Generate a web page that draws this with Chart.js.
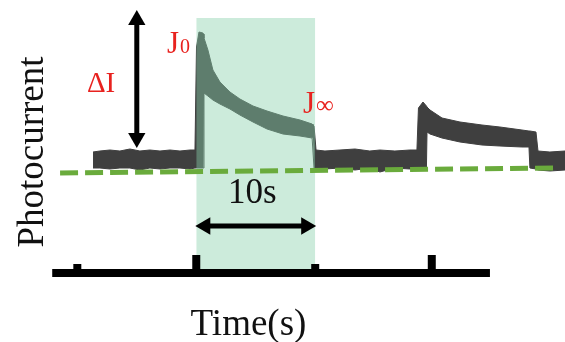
<!DOCTYPE html>
<html>
<head>
<meta charset="utf-8">
<script src="https://cdn.jsdelivr.net/npm/chart.js@4/dist/chart.umd.min.js"></script>
<style>
  html, body { margin: 0; padding: 0; background: #fff; }
  canvas { display: block; }
</style>
</head>
<body>
<canvas id="grafico" width="565" height="342"></canvas>
<script>
// Photocurrent trace (time in s, current in arbitrary units)
const traceTime = [-8.68, -8.10, -7.26, -6.42, -5.58, -4.74, -3.90, -3.05, -2.21, -1.37, -0.53, -0.11,
  0.02, 0.23, 0.56, 0.61, 0.65, 0.98, 1.40, 1.99, 2.83, 3.67, 4.77, 5.95, 7.29, 8.72, 9.74, 9.81, 9.90,
  10.07, 10.82, 12.08, 13.34, 14.59, 15.44, 16.70, 17.96, 18.55, 18.68, 19.06, 19.35, 19.40, 19.65,
  20.66, 22.17, 24.02, 25.53, 27.38, 27.97, 28.05, 28.56, 28.73, 29.73, 31.0];
const traceUpper = [12.1, 12.2, 12.3, 12.2, 12.4, 12.2, 12.3, 12.2, 12.3, 12.2, 12.3, 12.3,
  22.6, 24.1, 24.0, 23.9, 23.5, 22.3, 20.3, 19.1, 18.1, 17.4, 16.7, 16.2, 15.7, 15.3, 14.9, 14.8, 14.7,
  12.3, 12.2, 12.3, 12.4, 12.2, 12.3, 12.2, 12.3, 12.3, 16.5, 17.1, 16.7, 16.6, 16.3,
  15.5, 15.1, 14.8, 14.6, 14.3, 14.2, 14.2, 14.1, 12.2, 12.1, 12.2];
const traceLower = [10.5, 10.5, 10.4, 10.5, 10.5, 10.3, 10.5, 10.4, 10.5, 10.5, 10.4, 10.5,
  10.5, 10.5, 10.5, 10.5, 18.0, 17.7, 17.3, 16.9, 16.4, 15.8, 15.1, 14.4, 13.9, 13.7, 13.5, 13.5, 10.5,
  10.5, 10.4, 10.5, 10.3, 10.5, 10.1, 10.5, 10.4, 10.5, 10.5, 10.5, 10.5, 14.1, 13.9,
  13.5, 13.1, 12.8, 12.7, 12.6, 12.6, 10.5, 10.4, 10.3, 10.2, 10.3];

// dark-current baseline (dashed)
const baseTime = [-11.45, 30.16];
const baseValue = [10.0, 10.5];

// illumination window (light on)
const lightTime = [0, 10];
const lightTop = [25.5, 25.5];

// time axis line and on/off markers
const axisTime = [-12.11, 24.69];
const markTime = [-10, 0, 10, 19.8];
const markHeight = [0.9, 1.8, 0.9, 1.8];

// ΔI arrow and 10 s arrow
const deltaTime = [-5.0, -5.0];
const deltaValue = [25.3, 13.5];
const spanTime = [0.76, 9.24];
const spanValue = [4.7, 4.7];

const vermelho = "#e8221f";
const serif = "'Liberation Serif', 'Times New Roman', serif";

const rotulos = [
  { text: "ΔI", x: -9.19, y: 18.1, size: 29, color: vermelho, align: "left" },
  { text: "J", sub: "0", x: -2.46, y: 22.0, size: 31, subSize: 20, color: vermelho, align: "left" },
  { text: "J", sub: "∞", x: 8.97, y: 16.0, size: 31, subSize: 25, color: vermelho, align: "left" },
  { text: "10s", x: 4.72, y: 7.0, size: 35, color: "#111", align: "center" },
  { text: "Time(s)", x: 4.39, y: -6.2, size: 37, color: "#111", align: "center" },
  { text: "Photocurrent", x: -12.89, y: 12.1, size: 37, color: "#111", align: "center", rotate: true },
];

const pontos = (xs, ys) => xs.map((v, i) => ({ x: v, y: ys[i] }));

// Texto das anotações
const textoPlugin = {
  id: "textoPlugin",
  afterDatasetsDraw(chart) {
    const { ctx, scales } = chart;
    rotulos.forEach((r) => {
      const px = scales.x.getPixelForValue(r.x);
      const py = scales.y.getPixelForValue(r.y);
      ctx.save();
      ctx.fillStyle = r.color;
      ctx.textBaseline = "alphabetic";
      ctx.font = r.size + "px " + serif;
      ctx.translate(px, py);
      if (r.rotate) ctx.rotate(-Math.PI / 2);
      ctx.textAlign = r.align;
      ctx.fillText(r.text, 0, 0);
      if (r.sub) {
        const w = ctx.measureText(r.text).width;
        ctx.font = r.subSize + "px " + serif;
        ctx.textAlign = "left";
        ctx.fillText(r.sub, w + 1, 0);
      }
      ctx.restore();
    });
  },
};

const datasets = [
  {
    label: "upper",
    data: pontos(traceTime, traceUpper),
    borderColor: "#3f3f3f",
    backgroundColor: "#3f3f3f",
    borderWidth: 1,
    fill: "+1",
    order: 6,
  },
  {
    label: "lower",
    data: pontos(traceTime, traceLower),
    borderColor: "#3f3f3f",
    borderWidth: 1,
    fill: false,
    order: 6,
  },
  {
    label: "light",
    data: pontos(lightTime, lightTop),
    borderWidth: 0,
    backgroundColor: "rgba(137, 208, 172, 0.43)",
    fill: { value: 0.4 },
    order: 5,
  },
  {
    label: "baseline",
    data: pontos(baseTime, baseValue),
    borderColor: "#6aab3c",
    borderWidth: 5,
    borderDash: [18, 7],
    fill: false,
    order: 4,
  },
  {
    label: "axis",
    data: pontos(axisTime, [0, 0]),
    borderColor: "#000",
    borderWidth: 8,
    fill: false,
    order: 3,
  },
  ...markTime.map((t, i) => ({
    label: "mark" + i,
    data: pontos([t, t], [0, markHeight[i]]),
    borderColor: "#000",
    borderWidth: 8,
    fill: false,
    order: 3,
  })),
  {
    label: "deltaI",
    data: pontos(deltaTime, deltaValue),
    borderColor: "#000",
    backgroundColor: "#000",
    borderWidth: 5,
    pointStyle: "triangle",
    pointRadius: 10,
    pointBorderWidth: 0,
    pointRotation: [0, 180],
    fill: false,
    order: 1,
  },
  {
    label: "span",
    data: pontos(spanTime, spanValue),
    borderColor: "#000",
    backgroundColor: "#000",
    borderWidth: 5,
    pointStyle: "triangle",
    pointRadius: 10,
    pointBorderWidth: 0,
    pointRotation: [270, 90],
    fill: false,
    order: 1,
  },
];

datasets.forEach((d) => {
  if (d.pointRadius === undefined) d.pointRadius = 0;
  d.tension = 0;
  d.clip = false;
});

const ctx = document.getElementById("grafico").getContext("2d");
new Chart(ctx, {
  type: "line",
  data: { datasets },
  options: {
    responsive: false,
    animation: false,
    layout: { padding: 0, autoPadding: false },
    plugins: { legend: { display: false }, tooltip: { enabled: false } },
    scales: {
      x: { type: "linear", min: -16.5, max: 31, display: false },
      y: { type: "linear", min: -6.9, max: 27.3, display: false },
    },
  },
  plugins: [textoPlugin],
});
</script>
</body>
</html>
